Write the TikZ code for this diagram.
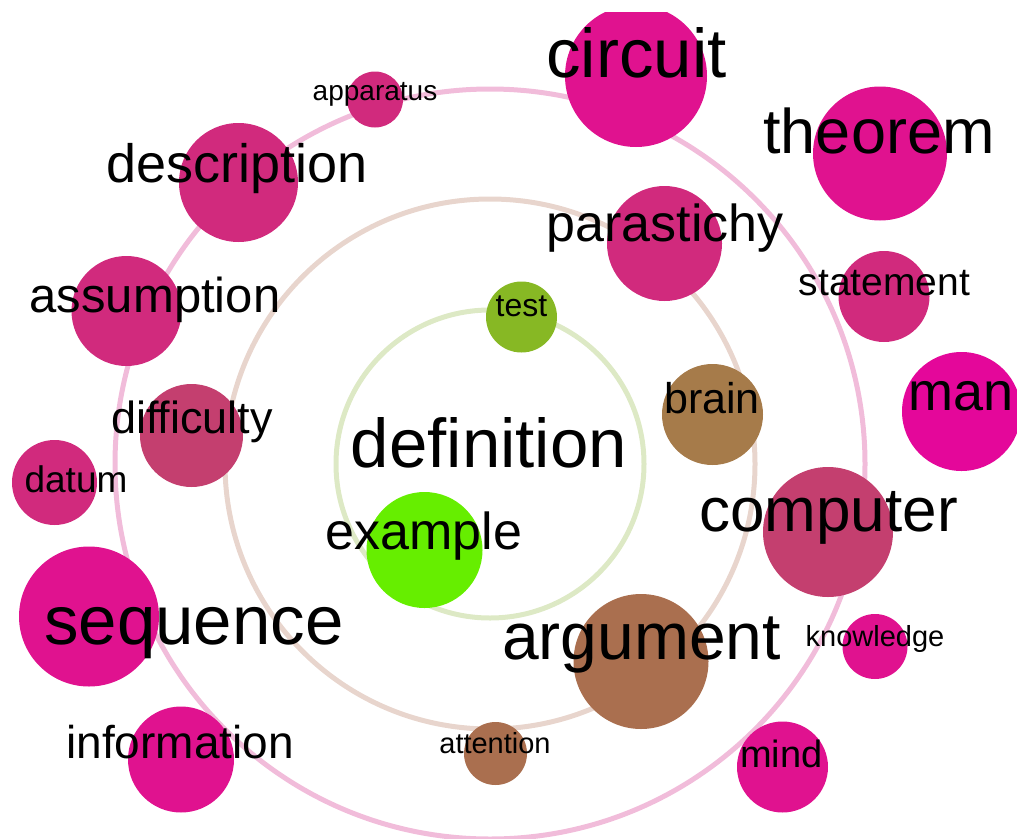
\documentclass[tikz,border=0pt]{standalone}
\usepackage{fontspec}
\setmainfont{Liberation Sans}
\usetikzlibrary{positioning}
\definecolor{hotpink}{HTML}{E0128F}
\definecolor{vivpink}{HTML}{E4079A}
\definecolor{midpink}{HTML}{D12A7D}
\definecolor{rosepink}{HTML}{C43F6F}
\definecolor{tanbrown}{HTML}{A67B4A}
\definecolor{rustbrown}{HTML}{AA6F4F}
\definecolor{olivegreen}{HTML}{87B824}
\definecolor{limegreen}{HTML}{66EE00}
\definecolor{ringin}{HTML}{DDE9C5}
\definecolor{ringmid}{HTML}{E8D5CD}
\definecolor{ringout}{HTML}{F1BCDA}

\begin{document}
\begin{tikzpicture}[x=1pt, y=-1pt,
    bubble/.style={circle, inner sep=0pt, minimum size=#1},
    word/.style={anchor=base, inner sep=0pt, text=black, font=\fontsize{#1}{#1}\selectfont},
    ring/.style={line width=5pt}]
    \useasboundingbox (0,0) rectangle (1017,838);
    % rings
    \coordinate (hub) at (490,464);
    \draw[ring, ringout] (hub) circle (375pt);
    \draw[ring, ringmid] (hub) circle (265pt);
    \draw[ring, ringin] (hub) circle (154pt);
    % bubbles
    \begin{scope}
    \clip (0,12) rectangle (1017,838);
    \node[bubble=142pt, fill=hotpink] (circuit) at (636,76) {};
    \node[bubble=134pt, fill=hotpink] (theorem) at (880,153.5) {};
    \node[bubble=56pt, fill=midpink] (apparatus) at (375,99.5) {};
    \node[bubble=119pt, fill=midpink] (description) at (238.5,182.5) {};
    \node[bubble=115pt, fill=midpink] (parastichy) at (664.5,243.5) {};
    \node[bubble=91pt, fill=midpink] (statement) at (884,296.5) {};
    \node[bubble=110pt, fill=midpink] (assumption) at (126.5,311) {};
    \node[bubble=71pt, fill=olivegreen] (test) at (521.5,317) {};
    \node[bubble=119pt, fill=vivpink] (man) at (961.5,411.5) {};
    \node[bubble=101pt, fill=tanbrown] (brain) at (712.5,414.5) {};
    \node[bubble=103pt, fill=rosepink] (difficulty) at (191.5,435.5) {};
    \node[bubble=85pt, fill=midpink] (datum) at (54.5,482.5) {};
    \node[bubble=116pt, fill=limegreen] (example) at (424.5,550) {};
    \node[bubble=130pt, fill=rosepink] (computer) at (828,532) {};
    \node[bubble=140pt, fill=hotpink] (sequence) at (89,616.5) {};
    \node[bubble=135pt, fill=rustbrown] (argument) at (641,661.5) {};
    \node[bubble=65pt, fill=hotpink] (knowledge) at (875,646.5) {};
    \node[bubble=106pt, fill=hotpink] (information) at (181,759.5) {};
    \node[bubble=63pt, fill=rustbrown] (attention) at (495.5,753.5) {};
    \node[bubble=91pt, fill=hotpink] (mind) at (782.5,767) {};
    \end{scope}
    % words
    \node[word=69] (w_circuit) at (636.5,77) {circuit};
    \node[word=63] (w_theorem) at (879,153) {theorem};
    \node[word=28] (w_apparatus) at (375,100) {apparatus};
    \node[word=54] (w_description) at (237.5,182) {description};
    \node[word=52] (w_parastichy) at (665,241) {parastichy};
    \node[word=39] (w_statement) at (884.5,295) {statement};
    \node[word=49] (w_assumption) at (155,312) {assumption};
    \node[word=32] (w_test) at (521.5,316) {test};
    \node[word=54] (w_man) at (961.5,410) {man};
    \node[word=43] (w_brain) at (712,413) {brain};
    \node[word=45] (w_difficulty) at (192,433) {difficulty};
    \node[word=37] (w_datum) at (76,492) {datum};
    \node[word=69] (w_definition) at (489,467) {definition};
    \node[word=52] (w_example) at (424,549) {example};
    \node[word=62] (w_computer) at (828.5,531) {computer};
    \node[word=69] (w_sequence) at (194,644) {sequence};
    \node[word=66] (w_argument) at (641.5,659) {argument};
    \node[word=29] (w_knowledge) at (875,646) {knowledge};
    \node[word=46] (w_information) at (180,758) {information};
    \node[word=29] (w_attention) at (495,753) {attention};
    \node[word=38] (w_mind) at (781.5,767) {mind};
\end{tikzpicture}
\end{document}
